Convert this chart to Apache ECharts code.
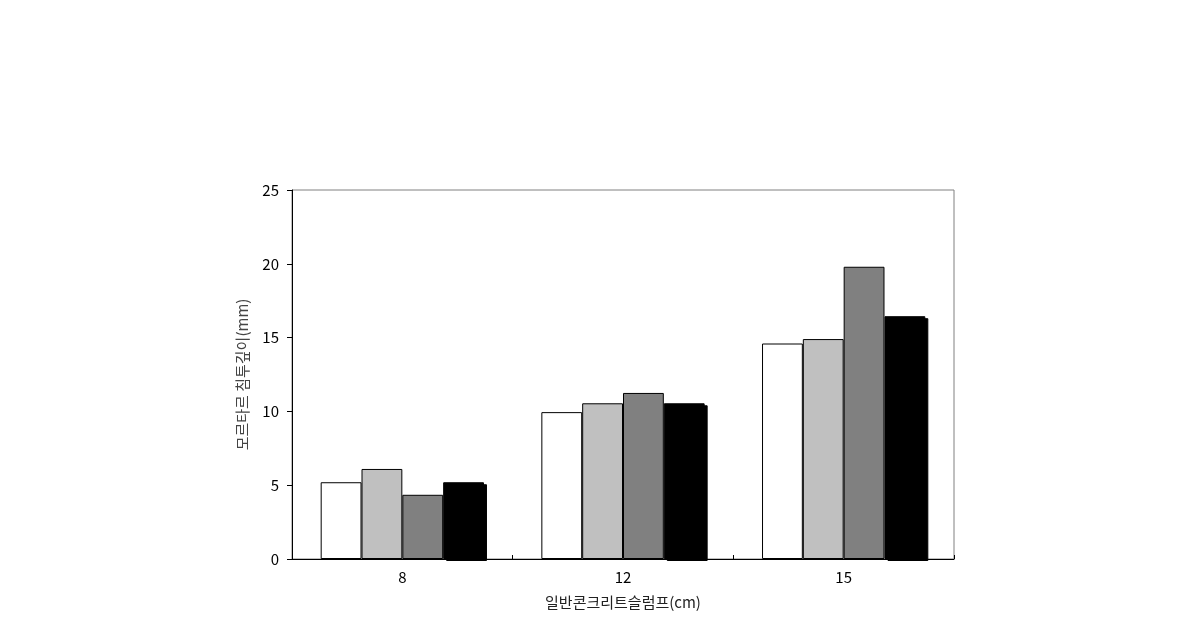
<!DOCTYPE html>
<html>
<head>
<meta charset="utf-8">
<script src="https://cdn.jsdelivr.net/npm/echarts@6/dist/echarts.min.js"></script>
<style>html,body{margin:0;padding:0;background:#fff;}#c{width:1190px;height:628px;}</style>
</head>
<body>
<div id="c"></div>
<script>
const categories = ['8', '12', '15'];
const seriesA = [5.2, 9.95, 14.6];
const seriesB = [6.1, 10.55, 14.9];
const seriesC = [4.35, 11.25, 19.8];
const seriesD = [5.2, 10.55, 16.45];
const yTicks = [0, 5, 10, 15, 20, 25];

const fontFam = '"Noto Sans CJK KR", "DejaVu Sans", sans-serif';
const chart = echarts.init(document.getElementById('c'), null, {renderer: 'canvas'});

function mk(name, data, color, shadow) {
  const st = {color: color, borderColor: '#000', borderWidth: 1};
  if (shadow) {
    st.shadowColor = '#000'; st.shadowOffsetX = 3; st.shadowOffsetY = 2; st.shadowBlur = 0;
  }
  return {
    name: name, type: 'bar', data: data,
    barGap: '0%', barCategoryGap: '26%',
    itemStyle: st,
    emphasis: {disabled: true},
    animation: false
  };
}

chart.setOption({
  animation: false,
  backgroundColor: '#fff',
  grid: {left: 292, right: 236, top: 190, bottom: 69, show: true, borderColor: '#808080', borderWidth: 1},
  xAxis: {
    type: 'category', data: categories,
    name: '일반콘크리트슬럼프(cm)', nameLocation: 'middle', nameGap: 36,
    nameTextStyle: {color: '#222', fontSize: 15, fontFamily: fontFam},
    axisLine: {lineStyle: {color: '#000', width: 1}},
    axisTick: {show: true, inside: true, length: 4, lineStyle: {color: '#000'}},
    axisLabel: {color: '#000', fontSize: 15, fontFamily: fontFam, margin: 11}
  },
  yAxis: {
    type: 'value', min: 0, max: 25, interval: 5,
    name: '모르타르 침투깊이(mm)', nameLocation: 'middle', nameGap: 42, nameRotate: 90,
    nameTextStyle: {color: '#444', fontSize: 15, fontFamily: fontFam},
    axisLine: {show: true, lineStyle: {color: '#000', width: 1}},
    axisTick: {show: true, length: 5, lineStyle: {color: '#000'}},
    splitLine: {show: false},
    axisLabel: {color: '#000', fontSize: 15, fontFamily: fontFam, margin: 13,
      formatter: function (v) { return yTicks.indexOf(v) >= 0 ? String(v) : ''; }}
  },
  series: [
    mk('A', seriesA, '#ffffff', false),
    mk('B', seriesB, '#c0c0c0', false),
    mk('C', seriesC, '#808080', false),
    mk('D', seriesD, '#000000', true)
  ]
});
</script>
</body>
</html>
